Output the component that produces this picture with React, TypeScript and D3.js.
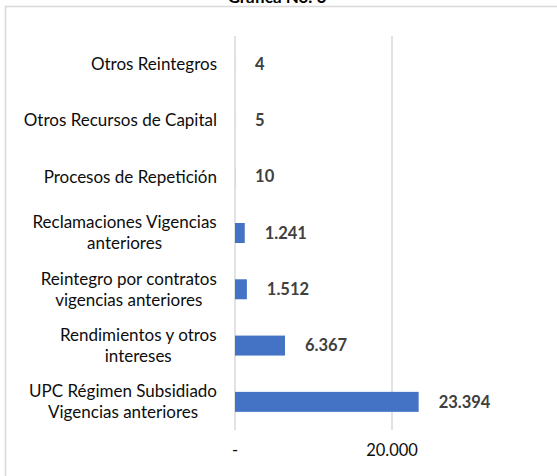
import React from "react";
import * as d3 from "d3";

const categories = [
  "Otros Reintegros",
  "Otros Recursos de Capital",
  "Procesos de Repetición",
  "Reclamaciones Vigencias anteriores",
  "Reintegro por contratos vigencias anteriores",
  "Rendimientos y otros intereses",
  "UPC Régimen Subsidiado Vigencias anteriores",
];
const categoryLines = [
  ["Otros Reintegros"],
  ["Otros Recursos de Capital"],
  ["Procesos de Repetición"],
  ["Reclamaciones Vigencias", "anteriores"],
  ["Reintegro por contratos", "vigencias anteriores"],
  ["Rendimientos y otros", "intereses"],
  ["UPC Régimen Subsidiado", "Vigencias anteriores"],
];
const values = [4, 5, 10, 1241, 1512, 6367, 23394];
const valueLabels = ["4", "5", "10", "1.241", "1.512", "6.367", "23.394"];
const tickValues = [0, 20000];
const tickLabels = ["-", "20.000"];
const title = "Gráfica No. 6";

const W = 557;
const H = 476;
const FONT = "Lato, 'Open Sans', sans-serif";
const LABEL_SIZE = 17;
const VALUE_SIZE = 16.5;

let ctx: CanvasRenderingContext2D | null = null;
function measure(text: string, font: string) {
  if (!ctx) ctx = document.createElement("canvas").getContext("2d");
  if (!ctx) return text.length * 7;
  ctx.font = font;
  return ctx.measureText(text).width;
}

export default function App() {
  const x = d3.scaleLinear().domain([0, 20000]).range([235, 392]);
  const y = d3
    .scaleBand<string>()
    .domain(categories)
    .range([36, 430])
    .paddingInner(0.645)
    .paddingOuter(0.3225);
  const bw = y.bandwidth();
  const labelRight = 217;
  const lineH = 21;

  return (
    <svg
      width={W}
      height={H}
      style={{ position: "absolute", left: 0, top: 0, background: "#fff" }}
      fontFamily={FONT}
    >
      <rect x={5.5} y={6.5} width={600} height={600} fill="#fff" stroke="#d9d9d9" strokeWidth={1.5} />
      <text x={277} y={3} textAnchor="middle" fontWeight="bold" fontSize={17} fill="#000">
        {title}
      </text>
      {tickValues.map((t) => (
        <line key={t} x1={x(t)} x2={x(t)} y1={36} y2={430} stroke="#d9d9d9" strokeWidth={1.5} />
      ))}
      {categories.map((c, i) => (
        <rect key={c} x={x(0)} y={y(c)} width={x(values[i]) - x(0)} height={bw} fill="#4472c4" />
      ))}
      {categories.map((c, i) => (
        <text
          key={c}
          x={x(values[i]) + 20}
          y={(y(c) as number) + bw / 2}
          dy="0.35em"
          fontWeight="bold"
          fontSize={VALUE_SIZE}
          fill="#404040"
        >
          {valueLabels[i]}
        </text>
      ))}
      {categories.map((c, i) => {
        const lines = categoryLines[i];
        const font = `${LABEL_SIZE}px ${FONT}`;
        const bwid = Math.max(...lines.map((l) => measure(l, font)));
        const cx = labelRight - bwid / 2;
        const cy = (y(c) as number) + bw / 2;
        const y0 = cy - ((lines.length - 1) * lineH) / 2;
        return (
          <text key={c} fontSize={LABEL_SIZE} fill="#0d0d0d" textAnchor="middle">
            {lines.map((l, j) => (
              <tspan key={j} x={cx} y={y0 + j * lineH} dy="0.35em">
                {l}
              </tspan>
            ))}
          </text>
        );
      })}
      {tickValues.map((t, i) => (
        <text key={t} x={x(t)} y={450} dy="0.35em" textAnchor="middle" fontSize={VALUE_SIZE} fill="#0d0d0d">
          {tickLabels[i]}
        </text>
      ))}
    </svg>
  );
}
